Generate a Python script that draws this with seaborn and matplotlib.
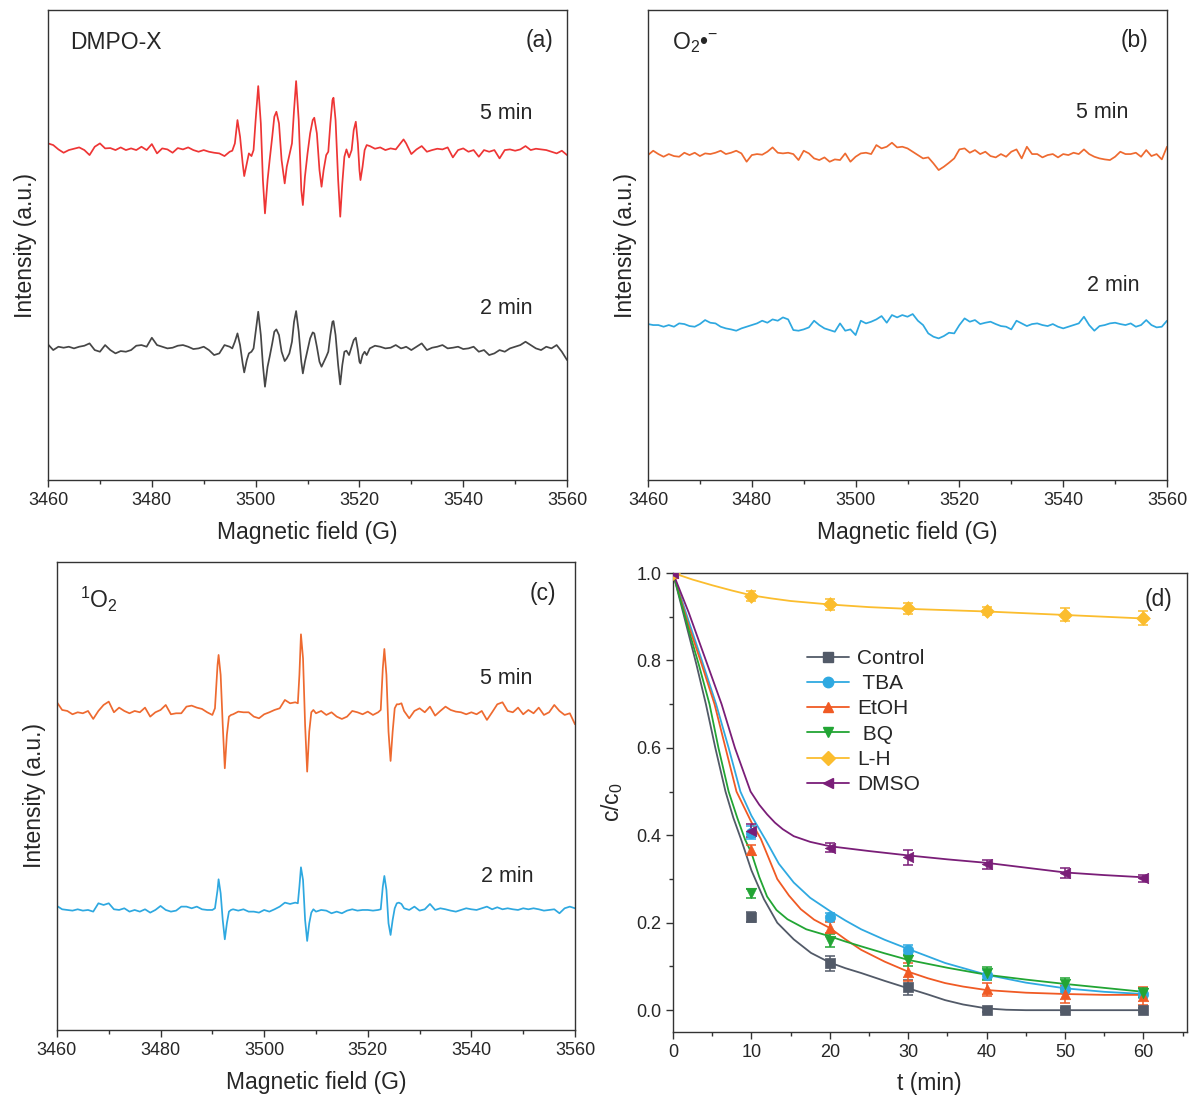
import numpy as np
import pandas as pd
import matplotlib
matplotlib.use("Agg")
import matplotlib.pyplot as plt
import seaborn as sns
from matplotlib.lines import Line2D
from matplotlib.ticker import MultipleLocator

# ---------------- data: panel (a) DMPO-X ----------------
field_a = [3460, 3461, 3462, 3463, 3464, 3465, 3466, 3467, 3468, 3469, 3470, 3471, 3472, 3473, 3474, 3475,
           3476, 3477, 3478, 3479, 3480, 3481, 3482, 3483, 3484, 3485, 3486, 3487, 3488, 3489, 3490, 3491,
           3492, 3493, 3494, 3495,
           3495.5, 3496, 3496.5, 3497, 3497.5, 3497.8, 3498.3, 3498.7, 3499.2, 3499.6,
           3500.0, 3500.5, 3501.0, 3501.4, 3501.8, 3502.3, 3502.7, 3503.2, 3503.6, 3504.0,
           3504.5, 3505.0, 3505.6, 3506.0, 3506.5, 3507.0, 3507.4, 3507.8, 3508.3, 3508.8,
           3509.1, 3509.5, 3510.0, 3510.5, 3511.0, 3511.3, 3511.8, 3512.3, 3512.7, 3513.1,
           3513.6, 3514.0, 3514.4, 3514.8, 3515.0, 3515.4, 3515.9, 3516.3, 3516.7, 3517.1,
           3517.5, 3518.0, 3518.5, 3518.9, 3519.3, 3519.7, 3520.0, 3520.2, 3520.6, 3521.0,
           3521.4,
           3522, 3523, 3524, 3525, 3526, 3527, 3528, 3528.5, 3529,
           3530, 3531, 3532, 3533, 3534, 3535, 3536, 3537, 3538, 3539, 3540, 3541, 3542, 3543, 3544, 3545,
           3546, 3547, 3548, 3549, 3550, 3551, 3552, 3553, 3554, 3555, 3556, 3557, 3558, 3559, 3560]
dmpox_5min = [20, 15, 2, -8, 0, 4, 8, 0, -15, 10, 20, 5, 6, 0, 8, 0, 5, 0, 10, 0, 18, -10, 5, 2, -8, 6, 2, 8,
              0, -5, 0, -5, -8, -10, -18, -5,
              -2, 20, 90, 40, -40, -78, -40, -10, -18, 0,
              90, 192, 80, -90, -190, -90, -30, 40, 100, 115,
              80, -30, -100, -50, -15, 20, 120, 207, 90, -120,
              -165, -80, -10, 50, 90, 97, 50, -60, -110, -60,
              -15, -5, 80, 150, 157, 90, -90, -200, -100, -20,
              2, -22, 0, 60, 85, 20, -60, -90, -50, 0,
              15,
              12, 4, 8, 0, 5, 2, 22, 32, 20,
              -12, 2, 12, -5, 0, 4, 2, 8, -22, 0, 5, -5, 0, -20, 0, -5, 0, -25, 0, 2, -2, 2, 12, 0, 4, 2,
              0, -5, -10, -2, -15]
dmpox_2min = [12, -5, 5, 2, 5, 0, 5, 8, 15, -5, -10, 10, -5, -15, -8, -10, -5, 8, 10, 5, 32, 10, 5, 0, 2, 8,
              10, 5, -2, 0, 5, -5, -20, -15, 10, 5,
              0, 20, 45, 10, -45, -72, -35, -15, -10, 0,
              50, 110, 40, -50, -115, -55, -25, 15, 50, 57,
              40, -10, -38, -30, -15, 20, 80, 112, 50, -40,
              -75, -40, -5, 30, 48, 45, 5, -40, -55, -42,
              -25, -10, 40, 80, 82, 40, -50, -108, -50, -10,
              -7, -20, 5, 25, 32, -5, -40, -45, -20, -10,
              -20,
              0, 8, 5, 0, 2, 10, 0, 2, 5,
              -5, 5, 15, -5, 2, 5, 10, 0, 2, 5, -2, 0, 5, -10, -5, -20, -15, -5, -10, 0, 5, 10, 20, 10,
              0, -5, 5, 0, 10, -10, -35]

# ---------------- data: panel (b) O2•- ----------------
field_b = [3460, 3461, 3462, 3463, 3464, 3465, 3466, 3467, 3468, 3469, 3470, 3471, 3472, 3473, 3474, 3475,
           3476, 3477, 3478, 3479, 3480, 3481, 3482, 3483, 3484, 3485, 3486, 3487, 3488, 3489, 3490, 3491,
           3492, 3493, 3494, 3495, 3496, 3497, 3498, 3499, 3500, 3501, 3502, 3503, 3504, 3505, 3506, 3507,
           3508, 3509, 3510, 3511, 3512, 3513, 3514, 3515, 3516, 3517, 3518, 3519, 3520, 3521, 3522, 3523,
           3524, 3525, 3526, 3527, 3528, 3529, 3530, 3531, 3532, 3533, 3534, 3535, 3536, 3537, 3538, 3539,
           3540, 3541, 3542, 3543, 3544, 3545, 3546, 3547, 3548, 3549, 3550, 3551, 3552, 3553, 3554, 3555,
           3556, 3557, 3558, 3559, 3560]
sup_5min = [0, 13, 3, -5, 3, -3, -5, 7, 0, 7, -3, 5, 3, 7, 13, 3, 7, 13, 5, -20,
            0, 3, 1, 10, 23, 7, 5, 7, 3, -15, 13, 5, -10, -15, -7, -20, -13, -15, 5, -20,
            -5, 5, 7, 3, 30, 20, 25, 37, 23, 25, 20, 10, 0, -10, -7, -25, -45, -35, -23, -10,
            17, 20, 7, 15, 3, 10, -3, -7, 3, -5, 10, 17, -10, 25, 3, 3, -7, 0, 3, -7,
            3, 0, 7, 3, 17, 3, -5, -10, -13, -15, -5, 10, 3, 3, 7, -5, 15, -3, 3, -13, 25]
sup_2min = [3, 0, 0, -5, 0, -5, 5, 3, -3, -5, 3, 15, 7, 5, -5, -10, -13, -17, -10, -5,
            0, 5, 13, 7, 17, 13, 23, 17, -15, -17, -13, -7, 13, 0, -10, -15, -20, 5, -17, -13,
            -30, 13, 5, 10, 17, 27, 7, 30, 23, 30, 25, 33, 13, 0, -25, -35, -40, -33, -23, -25,
            0, 20, 10, 15, 3, 7, 10, 3, -3, -5, -13, 13, 5, -3, 3, 5, 0, -3, 3, -5,
            -10, -5, 0, 5, 25, 0, -17, -3, 0, 5, 7, 3, 0, 5, -5, 0, 15, 0, -7, -5, 13]

# ---------------- data: panel (c) 1O2 ----------------
field_c = [3460, 3461, 3462, 3463, 3464, 3465, 3466, 3467, 3468, 3469, 3470, 3471, 3472, 3473, 3474, 3475,
           3476, 3477, 3478, 3479, 3480, 3481, 3482, 3483, 3484, 3485, 3486, 3487, 3488, 3489, 3490,
           3490.5, 3491, 3491.2, 3491.6, 3492, 3492.4, 3492.8, 3493.2, 3493.6,
           3494, 3495, 3496, 3497, 3498, 3499, 3500, 3501, 3502, 3503, 3504, 3505, 3506,
           3506.5, 3506.8, 3507.1, 3507.5, 3507.9, 3508.3, 3508.7, 3509.1, 3509.5,
           3510, 3511, 3512, 3513, 3514, 3515, 3516, 3517, 3518, 3519, 3520, 3521, 3522,
           3522.5, 3522.9, 3523.2, 3523.6, 3524, 3524.4, 3524.8, 3525.2, 3525.6, 3526, 3526.5,
           3527, 3528, 3529, 3530, 3531, 3532, 3533, 3534, 3535, 3536, 3537, 3538, 3539, 3540, 3541, 3542,
           3543, 3544, 3545, 3546, 3547, 3548, 3549, 3550, 3551, 3552, 3553, 3554, 3555, 3556, 3557, 3558,
           3559, 3560]
singlet_5min = [30, 7, 4, -6, 0, -3, 4, -20, 4, 22, 32, 0, 14, 4, -3, 4, 0, 14, -13, 0, 7, 22, -6, -3, -3,
                17, 20, 14, 10, 0, -8,
                12, 142, 172, 112, -38, -168, -68, -13, -8,
                -6, 2, 0, 0, -13, -18, -6, 0, 7, 12, 37, 27, 30,
                27, 112, 234, 162, -38, -178, -58, 0, 7,
                -3, 4, -8, 0, -13, -20, -13, 4, 0, -6, 2, -8, 0,
                7, 132, 190, 112, -58, -146, -58, 12, 24, 24, 27,
                4, -18, 4, 12, 0, 17, -10, 4, 17, 7, 2, 0, -6, 0, -6, 4, -23, 0, 24, 30, 4, 0, 14, -6,
                7, -3, 14, -8, 0, 22, 4, -8, -3, -36]
singlet_2min = [10, 0, -2, -4, 0, -4, -2, -7, 18, 13, 18, 0, -2, 3, -7, -2, -7, 0, -10, -2, 10, -2, -7, -4,
                8, 8, 3, 8, 0, -2, -2,
                3, 58, 90, 48, -32, -90, -42, -7, -2,
                0, -4, 0, -7, -7, -10, -2, -7, 0, 8, 20, 16, 20,
                18, 68, 126, 88, -32, -95, -42, -10, 0,
                -7, -2, -4, -12, -7, -12, -4, 0, -4, -2, -2, -4, -2,
                0, 68, 100, 58, -42, -77, -32, 3, 18, 20, 16,
                3, -2, 8, -4, 0, 16, -2, 3, 0, -4, -7, -2, 3, 0, -2, 3, 8, 0, 6, 0, 3, 0, -2, 3,
                0, 3, 0, -4, -2, 0, -12, 3, 8, 3]

# ---------------- data: panel (d) degradation ----------------
t_points = [0, 10, 20, 30, 40, 50, 60]
series_names = ["Control", " TBA", "EtOH", " BQ", "L-H", "DMSO"]
control_pts = [1.0, 0.213, 0.107, 0.052, 0.0, 0.0, 0.0]
tba_pts = [1.0, 0.406, 0.213, 0.138, 0.081, 0.049, 0.036]
etoh_pts = [1.0, 0.366, 0.189, 0.087, 0.048, 0.036, 0.032]
bq_pts = [1.0, 0.267, 0.159, 0.114, 0.084, 0.061, 0.040]
lh_pts = [1.0, 0.948, 0.928, 0.919, 0.913, 0.905, 0.897]
dmso_pts = [1.0, 0.410, 0.372, 0.350, 0.334, 0.314, 0.302]

control_err = [0.0, 0.012, 0.017, 0.017, 0.005, 0.005, 0.005]
tba_err = [0.0, 0.015, 0.010, 0.010, 0.010, 0.008, 0.008]
etoh_err = [0.0, 0.012, 0.012, 0.020, 0.015, 0.020, 0.020]
bq_err = [0.0, 0.010, 0.015, 0.012, 0.015, 0.012, 0.010]
lh_err = [0.0, 0.012, 0.012, 0.012, 0.010, 0.015, 0.015]
dmso_err = [0.0, 0.015, 0.010, 0.017, 0.010, 0.012, 0.008]

# fitted curves
control_fit_t = [0, 1, 2, 3, 4.2, 5.4, 6.7, 7.7, 8.7, 10, 11.6, 13.3, 15.4, 17.6, 20, 22, 24, 27, 30, 32.5,
                 34.7, 37, 40, 42.5, 45, 50, 55, 60]
control_fit_v = [1.0, 0.93, 0.86, 0.79, 0.70, 0.60, 0.50, 0.44, 0.39, 0.32, 0.254, 0.20, 0.162, 0.131,
                 0.109, 0.096, 0.085, 0.067, 0.050, 0.036, 0.023, 0.013, 0.004, 0.001, 0.0, 0.0, 0.0, 0.0]
tba_fit_t = [0, 1, 2, 3.5, 5.5, 7.1, 8.6, 10, 11.8, 13.5, 15.4, 17.5, 20, 22, 24, 27, 30, 34.7, 40, 45, 50,
             55, 60]
tba_fit_v = [1.0, 0.945, 0.89, 0.81, 0.70, 0.60, 0.50, 0.445, 0.39, 0.335, 0.292, 0.257, 0.227, 0.205,
             0.185, 0.161, 0.140, 0.108, 0.081, 0.063, 0.050, 0.042, 0.037]
etoh_fit_t = [0, 1, 2, 3.5, 5.3, 6.7, 8.1, 10, 11.2, 13.3, 14.8, 16.3, 18, 20, 22, 24, 27, 30, 32.5, 34.7,
              37, 40, 45, 50, 55, 60]
etoh_fit_v = [1.0, 0.94, 0.88, 0.80, 0.70, 0.60, 0.50, 0.43, 0.392, 0.30, 0.262, 0.231, 0.207, 0.188,
              0.162, 0.138, 0.111, 0.088, 0.073, 0.062, 0.054, 0.046, 0.040, 0.037, 0.035, 0.035]
bq_fit_t = [0, 1, 2, 3.3, 4.66, 5.8, 7.1, 8.2, 9.2, 10, 11, 12, 13.2, 14.6, 17, 20, 22, 24, 27, 30, 35, 40,
            45, 50, 55, 60]
bq_fit_v = [1.0, 0.935, 0.87, 0.79, 0.70, 0.60, 0.50, 0.44, 0.39, 0.36, 0.305, 0.26, 0.229, 0.208, 0.185,
            0.169, 0.157, 0.146, 0.130, 0.115, 0.097, 0.081, 0.070, 0.060, 0.051, 0.042]
lh_fit_t = [0, 2.5, 5, 7.5, 10, 12.5, 15, 17.5, 20, 25, 30, 35, 40, 45, 50, 55, 60]
lh_fit_v = [1.0, 0.985, 0.972, 0.960, 0.949, 0.942, 0.936, 0.932, 0.928, 0.922, 0.918, 0.915, 0.912, 0.908,
            0.904, 0.900, 0.896]
dmso_fit_t = [0, 1, 2, 4, 6.2, 7.9, 9.9, 11, 12, 13, 14, 15.4, 17.5, 20, 25, 30, 35, 40, 45, 50, 55, 60]
dmso_fit_v = [1.0, 0.955, 0.91, 0.81, 0.70, 0.60, 0.50, 0.47, 0.448, 0.429, 0.414, 0.398, 0.385, 0.375,
              0.364, 0.354, 0.345, 0.337, 0.326, 0.315, 0.309, 0.304]

# ---------------- style ----------------
sns.set_style("ticks")
plt.rcParams["font.family"] = ["Liberation Sans", "DejaVu Sans"]
plt.rcParams["mathtext.fontset"] = "custom"
plt.rcParams["mathtext.rm"] = "Liberation Sans"
plt.rcParams["mathtext.it"] = "Liberation Sans:italic"
plt.rcParams["mathtext.bf"] = "Liberation Sans:bold"

TICK_FS = 13
LABEL_FS = 16.5
TEXT_FS = 15.5

fig = plt.figure(figsize=(11.89, 10.95), dpi=100)

ax_a = fig.add_axes([0.0404, 0.5616, 0.4365, 0.4292])
ax_b = fig.add_axes([0.5450, 0.5616, 0.4365, 0.4292])
ax_c = fig.add_axes([0.0479, 0.0594, 0.4357, 0.4274])
ax_d = fig.add_axes([0.5660, 0.0575, 0.4320, 0.4192])


def style_axes(ax):
    for s in ax.spines.values():
        s.set_color("#333333")
        s.set_linewidth(1.0)
    ax.tick_params(axis="both", which="both", direction="out", color="#333333",
                   labelsize=TICK_FS, top=False, right=False)
    ax.tick_params(which="major", length=5, width=1)
    ax.tick_params(which="minor", length=3, width=1)


def draw_spec(ax, field, vals, offset, color):
    df = pd.DataFrame({"B": field, "I": np.asarray(vals, float) + offset})
    sns.lineplot(data=df, x="B", y="I", ax=ax, color=color, lw=1.25, sort=False,
                 estimator=None, legend=False)


def spec_axes(ax, ymax):
    ax.set_xlim(3460, 3560)
    ax.set_ylim(0, ymax)
    ax.set_yticks([])
    ax.xaxis.set_major_locator(MultipleLocator(20))
    ax.xaxis.set_minor_locator(MultipleLocator(10))
    ax.set_xlabel("Magnetic field (G)", fontsize=LABEL_FS, labelpad=9)
    ax.set_ylabel("Intensity (a.u.)", fontsize=LABEL_FS, labelpad=8)
    style_axes(ax)


# panel (a)
draw_spec(ax_a, field_a, dmpox_5min, 990, "#ee3535")
draw_spec(ax_a, field_a, dmpox_2min, 395, "#464646")
spec_axes(ax_a, 1410)
ax_a.text(0.042, 0.93, "DMPO-X", transform=ax_a.transAxes, fontsize=LABEL_FS, va="center", ha="left")
ax_a.text(0.947, 0.936, "(a)", transform=ax_a.transAxes, fontsize=LABEL_FS, va="center", ha="center")
ax_a.text(0.882, 0.779, "5 min", transform=ax_a.transAxes, fontsize=TEXT_FS, va="center", ha="center")
ax_a.text(0.882, 0.364, "2 min", transform=ax_a.transAxes, fontsize=TEXT_FS, va="center", ha="center")

# panel (b)
draw_spec(ax_b, field_b, sup_5min, 975, "#ee6a30")
draw_spec(ax_b, field_b, sup_2min, 465, "#2ea8e0")
spec_axes(ax_b, 1410)
ax_b.text(0.046, 0.93, "O$_2$•$^{-}$", transform=ax_b.transAxes, fontsize=LABEL_FS, va="center", ha="left")
ax_b.text(0.937, 0.936, "(b)", transform=ax_b.transAxes, fontsize=LABEL_FS, va="center", ha="center")
ax_b.text(0.875, 0.783, "5 min", transform=ax_b.transAxes, fontsize=TEXT_FS, va="center", ha="center")
ax_b.text(0.896, 0.415, "2 min", transform=ax_b.transAxes, fontsize=TEXT_FS, va="center", ha="center")

# panel (c)
draw_spec(ax_c, field_c, singlet_5min, 953, "#ee6a30")
draw_spec(ax_c, field_c, singlet_2min, 362, "#2ea8e0")
spec_axes(ax_c, 1404)
ax_c.text(0.044, 0.919, "$^{1}$O$_2$", transform=ax_c.transAxes, fontsize=LABEL_FS, va="center", ha="left")
ax_c.text(0.938, 0.932, "(c)", transform=ax_c.transAxes, fontsize=LABEL_FS, va="center", ha="center")
ax_c.text(0.867, 0.752, "5 min", transform=ax_c.transAxes, fontsize=TEXT_FS, va="center", ha="center")
ax_c.text(0.869, 0.327, "2 min", transform=ax_c.transAxes, fontsize=TEXT_FS, va="center", ha="center")

# panel (d)
colors_d = ["#525a68", "#2fa9e1", "#f05a24", "#22a534", "#fbbd2e", "#7a1e78"]
markers_d = ["s", "o", "^", "v", "D", "<"]
msize_d = [7, 7.5, 7.5, 7.5, 7, 7.5]
pts_d = [control_pts, tba_pts, etoh_pts, bq_pts, lh_pts, dmso_pts]
err_d = [control_err, tba_err, etoh_err, bq_err, lh_err, dmso_err]
fits_d = [(control_fit_t, control_fit_v), (tba_fit_t, tba_fit_v), (etoh_fit_t, etoh_fit_v),
          (bq_fit_t, bq_fit_v), (lh_fit_t, lh_fit_v), (dmso_fit_t, dmso_fit_v)]

for (ft, fv), col in zip(fits_d, colors_d):
    sns.lineplot(x=ft, y=fv, ax=ax_d, color=col, lw=1.3, sort=False, estimator=None, legend=False)

for name, ys, es, col, mk, ms in zip(series_names, pts_d, err_d, colors_d, markers_d, msize_d):
    ax_d.errorbar(t_points, ys, yerr=es, fmt="none", ecolor=col, elinewidth=1.1, capsize=3.5,
                  capthick=1.1, zorder=3)
    sns.scatterplot(x=t_points, y=ys, ax=ax_d, color=col, marker=mk, s=ms ** 2, edgecolor=col,
                    linewidth=0.5, zorder=4, legend=False)

ax_d.set_xlim(0, 65.5)
ax_d.set_ylim(-0.05, 1.0)
ax_d.xaxis.set_major_locator(MultipleLocator(10))
ax_d.xaxis.set_minor_locator(MultipleLocator(5))
ax_d.yaxis.set_major_locator(MultipleLocator(0.2))
ax_d.yaxis.set_minor_locator(MultipleLocator(0.1))
ax_d.yaxis.set_major_formatter(matplotlib.ticker.FormatStrFormatter("%.1f"))
ax_d.set_xlabel("t (min)", fontsize=LABEL_FS, labelpad=8)
ax_d.set_ylabel("c/c$_0$", fontsize=LABEL_FS, labelpad=8)
style_axes(ax_d)
ax_d.text(0.945, 0.942, "(d)", transform=ax_d.transAxes, fontsize=LABEL_FS, va="center", ha="center",
          zorder=6)

handles = [Line2D([0], [0], color=c, lw=1.3, marker=m, markersize=ms, markeredgecolor=c)
           for c, m, ms in zip(colors_d, markers_d, msize_d)]
ax_d.legend(handles, series_names, loc="upper left", bbox_to_anchor=(0.245, 0.853), frameon=False,
            fontsize=15, handlelength=2.0, handletextpad=0.4, labelspacing=0.3, borderaxespad=0.0)

fig.savefig("out.png", dpi=100)
